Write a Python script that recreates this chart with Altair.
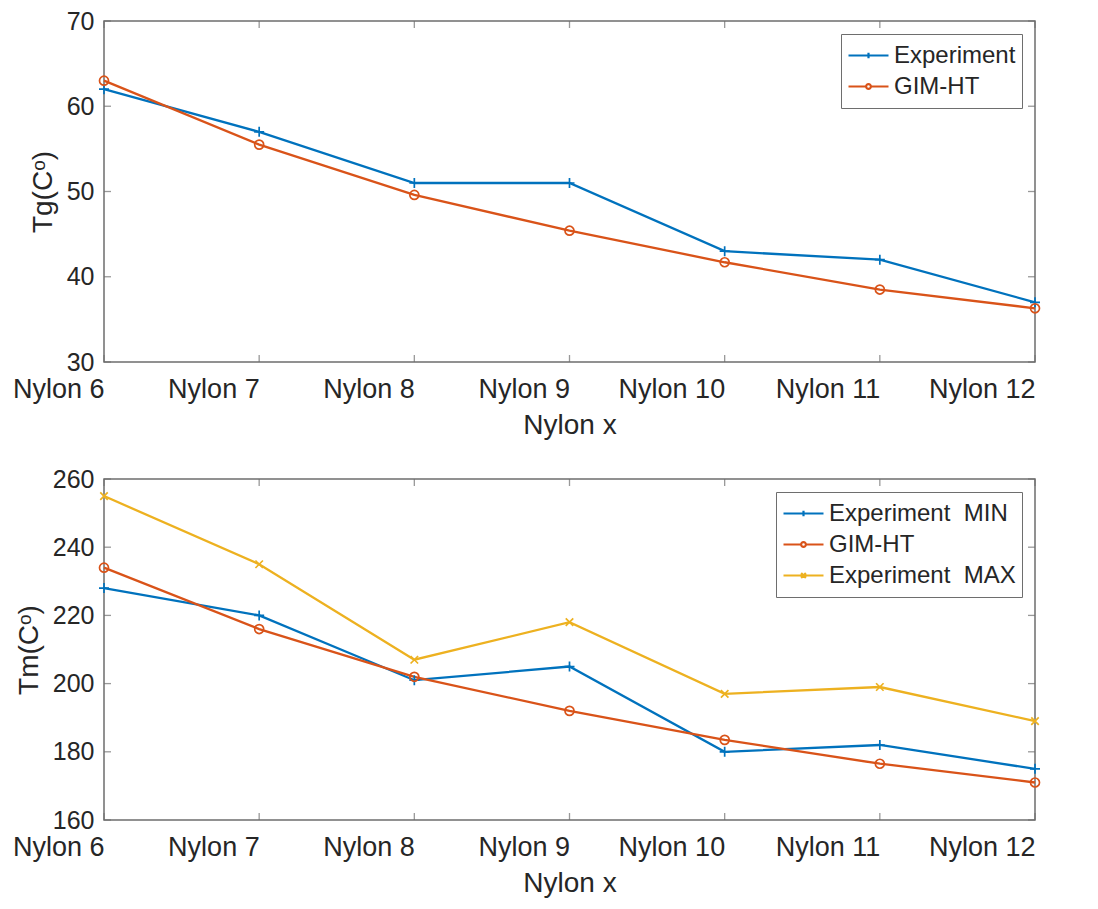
import altair as alt
import pandas as pd

categories = ["Nylon 6", "Nylon 7", "Nylon 8", "Nylon 9", "Nylon 10", "Nylon 11", "Nylon 12"]

tg_experiment = [62, 57, 51, 51, 43, 42, 37]
tg_gimht = [63, 55.5, 49.6, 45.4, 41.7, 38.5, 36.3]

tm_exp_min = [228, 220, 201, 205, 180, 182, 175]
tm_gimht = [234, 216, 202, 192, 183.5, 176.5, 171]
tm_exp_max = [255, 235, 207, 218, 197, 199, 189]

tg_ticks = [30, 40, 50, 60, 70]
tm_ticks = [160, 180, 200, 220, 240, 260]

top_names = ["Experiment", "GIM-HT"]
bot_names = ["Experiment\u00a0 MIN", "GIM-HT", "Experiment\u00a0 MAX"]

BLUE, RED, YEL = "#0072BD", "#D95319", "#EDB120"
FRAME = "#6e6e6e"
TXT = "#262626"
FONT = "Liberation Sans"
W, H = 931, 341

# marker paths (plot) and legend paths (line + marker)
P_PLUS = "M-1,0L1,0M0,-1L0,1"
P_CIRC = "M-0.9,0A0.9,0.9 0 1,1 0.9,0A0.9,0.9 0 1,1 -0.9,0Z"
P_X = "M-0.75,-0.75L0.75,0.75M-0.75,0.75L0.75,-0.75"
L_PLUS = "M-1,0L1,0M0,-0.14L0,0.14"
L_CIRC = "M-1,0L-0.12,0M0.12,0L1,0M-0.12,0A0.12,0.12 0 1,1 0.12,0A0.12,0.12 0 1,1 -0.12,0"
L_X = "M-1,0L1,0M-0.12,-0.12L0.12,0.12M-0.12,0.12L0.12,-0.12"


def long_df(names, series):
    rows = []
    for n, vals in zip(names, series):
        for c, v in zip(categories, vals):
            rows.append({"cat": c, "series": n, "value": v})
    return pd.DataFrame(rows)


def panel(df, names, colors, marks, legend_marks, domain, ticks, ytitle):
    xs = alt.Scale(type="point", padding=0)
    ys = alt.Scale(domain=domain, nice=False, zero=False)
    x = alt.X("cat:N", sort=categories, scale=xs,
              axis=alt.Axis(title="Nylon x", labelAngle=0, labelPadding=27,
                            titlePadding=9, labelOverlap=False))
    y = alt.Y("value:Q", scale=ys,
              axis=alt.Axis(values=ticks, title=ytitle, labelPadding=10,
                            titlePadding=9, labelFontSize=25))
    cscale = alt.Scale(domain=names, range=colors)
    base = alt.Chart(df)
    lines = base.mark_line(strokeWidth=2.3).encode(
        x=x, y=y, color=alt.Color("series:N", scale=cscale, legend=None))
    pts = base.mark_point(filled=False, strokeWidth=1.7, size=100, opacity=1).encode(
        x=x, y=y,
        color=alt.Color("series:N", scale=cscale, legend=None),
        shape=alt.Shape("series:N", scale=alt.Scale(domain=names, range=marks), legend=None))
    leg_props = dict(title=None, orient="top-right", offset=13, strokeColor=FRAME,
                     fillColor="white", padding=6, symbolSize=1600,
                     symbolStrokeWidth=2.2, symbolOpacity=1, labelFont=FONT,
                     labelFontSize=24, labelColor=TXT, clipHeight=31,
                     rowPadding=0, labelOffset=4, cornerRadius=0, labelLimit=400)
    leg = base.mark_point(filled=False, opacity=0, size=1).encode(
        x=x, y=y,
        color=alt.Color("series:N", scale=cscale, legend=alt.Legend(**leg_props)),
        shape=alt.Shape("series:N", scale=alt.Scale(domain=names, range=legend_marks),
                        legend=alt.Legend(**leg_props)))
    tdf = pd.DataFrame({"value": ticks})
    cdf = pd.DataFrame({"cat": categories})
    tick_style = dict(color=FRAME, thickness=1.3, size=7)
    yl = alt.Chart(tdf).mark_tick(orient="horizontal", **tick_style).encode(
        y=alt.Y("value:Q", scale=ys), x=alt.value(3.5))
    yr = alt.Chart(tdf).mark_tick(orient="horizontal", **tick_style).encode(
        y=alt.Y("value:Q", scale=ys), x=alt.value(W - 3.5))
    xb = alt.Chart(cdf).mark_tick(orient="vertical", **tick_style).encode(
        x=alt.X("cat:N", sort=categories, scale=xs), y=alt.value(H - 3.5))
    xt = alt.Chart(cdf).mark_tick(orient="vertical", **tick_style).encode(
        x=alt.X("cat:N", sort=categories, scale=xs), y=alt.value(3.5))
    return alt.layer(yl, yr, xb, xt, lines, pts, leg).resolve_scale(
        color="independent", shape="independent").properties(width=W, height=H)


top = panel(long_df(top_names, [tg_experiment, tg_gimht]), top_names,
            [BLUE, RED], [P_PLUS, P_CIRC], [L_PLUS, L_CIRC],
            [30, 70], tg_ticks, "Tg(C\u1d52)")
bottom = panel(long_df(bot_names, [tm_exp_min, tm_gimht, tm_exp_max]), bot_names,
               [BLUE, RED, YEL], [P_PLUS, P_CIRC, P_X], [L_PLUS, L_CIRC, L_X],
               [160, 260], tm_ticks, "Tm(C\u1d52)")

chart = alt.vconcat(top, bottom, spacing=26).properties(
    padding={"left": 3, "top": 0, "right": 0, "bottom": 0}
).configure_view(stroke=FRAME, strokeWidth=1.5).configure_axis(
    domain=False, ticks=False, grid=False,
    labelFont=FONT, labelFontSize=27, labelColor=TXT,
    titleFont=FONT, titleFontSize=28, titleColor=TXT, titleFontWeight="normal")

chart.save("out.html", embed_options={"renderer": "svg", "actions": False})
